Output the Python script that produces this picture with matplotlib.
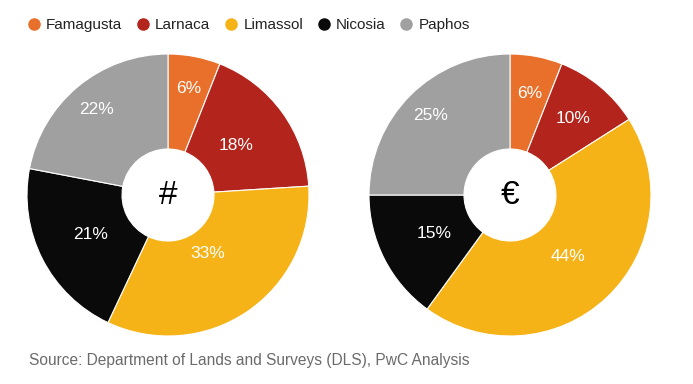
import numpy as np
import matplotlib.pyplot as plt
from matplotlib.lines import Line2D

plt.rcParams['font.family'] = ['Liberation Sans', 'DejaVu Sans']

regions = ["Famagusta", "Larnaca", "Limassol", "Nicosia", "Paphos"]
colors = ["#E8702A", "#B3241C", "#F6B317", "#0A0A0A", "#A0A0A0"]
count_share = [6, 18, 33, 21, 22]
value_share = [6, 10, 44, 15, 25]
count_labels = ["6%", "18%", "33%", "21%", "22%"]
value_labels = ["6%", "10%", "44%", "15%", "25%"]
# distance of each label from the centre, as a fraction of the radius
count_dist = [0.77, 0.60, 0.50, 0.62, 0.79]
value_dist = [0.73, 0.70, 0.60, 0.60, 0.80]

fig = plt.figure(figsize=(6.93, 3.84), dpi=100)
ax = fig.add_axes([0, 0, 1, 1])

R = 141
hole = 46


def donut(cx, cy, vals, labels, dist, symbol):
    ax.pie(vals, colors=colors, startangle=90, counterclock=False,
           center=(cx, cy), radius=R, frame=True,
           wedgeprops=dict(width=R - hole, edgecolor='white', linewidth=0.8))
    total = sum(vals)
    start = 0
    for v, lab, d in zip(vals, labels, dist):
        mid = (start + v / 2) / total * 2 * np.pi
        start += v
        ax.text(cx + d * R * np.sin(mid), cy + d * R * np.cos(mid), lab,
                color='white', fontsize=12.5, ha='center', va='center')
    ax.text(cx, cy, symbol, fontsize=24, ha='center', va='center', color='black')


donut(168, 189, count_share, count_labels, count_dist, "#")
donut(510, 189, value_share, value_labels, value_dist, "€")
ax.set_xlim(0, 693)
ax.set_ylim(0, 384)
ax.set_aspect('equal')
ax.axis('off')

handles = [Line2D([], [], marker='o', linestyle='', markersize=8,
                  markerfacecolor=c, markeredgecolor=c) for c in colors]
fig.legend(handles, regions, loc='center left', bbox_to_anchor=(0.029, 1 - 25 / 384),
           ncol=5, frameon=False, fontsize=11, handletextpad=0.3,
           columnspacing=0.85, handlelength=1.0, borderaxespad=0,
           labelcolor='#222222')

fig.text(29 / 693, 1 - 360 / 384, "Source: Department of Lands and Surveys (DLS), PwC Analysis",
         fontsize=11.2, color='#6b6b6b', va='center', ha='left')

fig.savefig("out.png", dpi=100)
